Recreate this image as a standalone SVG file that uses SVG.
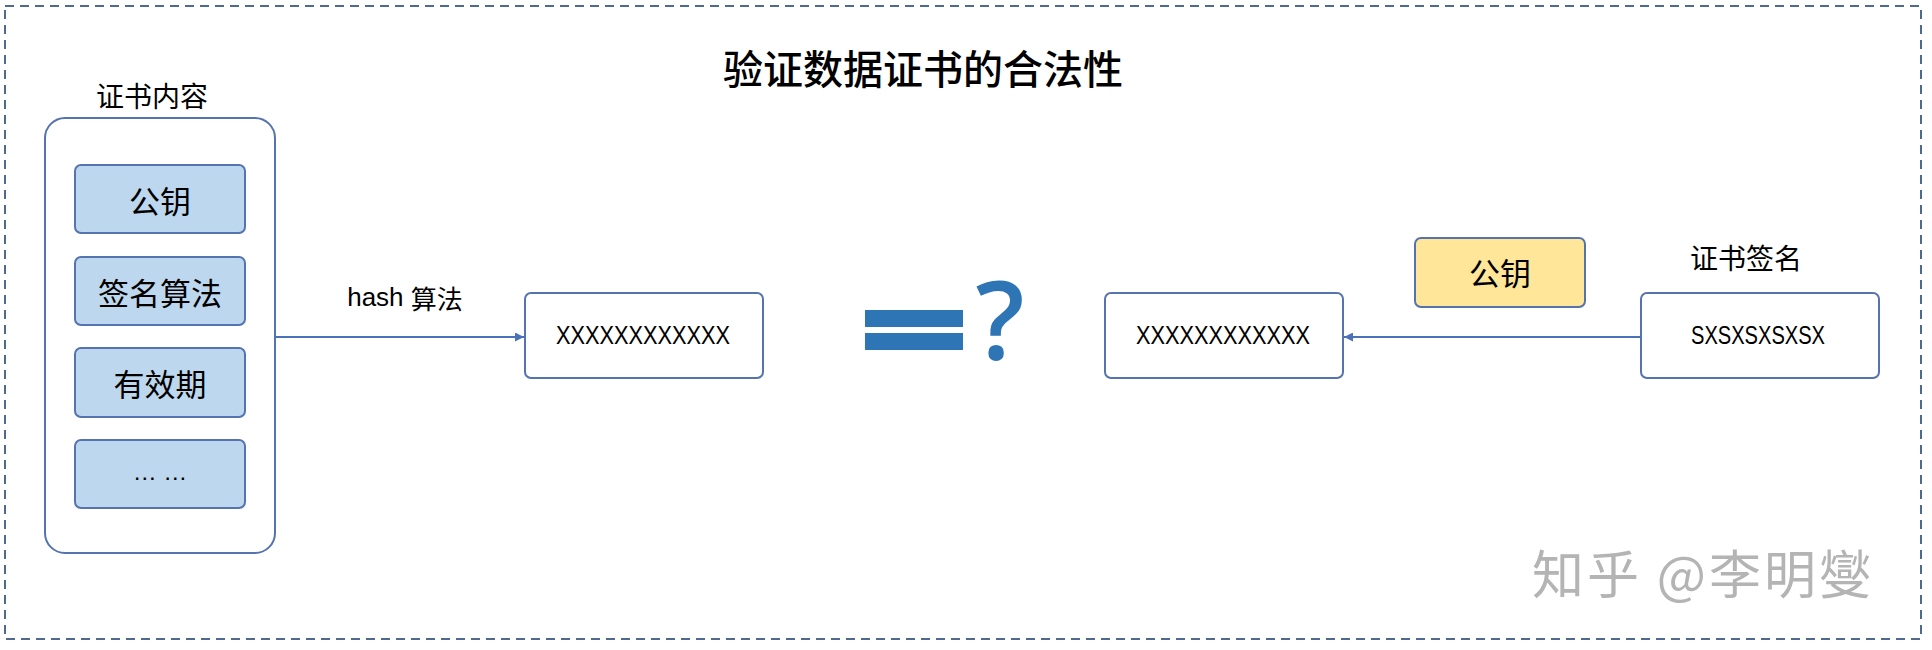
<svg xmlns="http://www.w3.org/2000/svg" width="1932" height="650" viewBox="0 0 1932 650">
<style>
.cjk{font-family:"Noto Sans CJK SC","Liberation Sans",sans-serif;fill:#000}
.lat{font-family:"Liberation Sans","Noto Sans CJK SC",sans-serif;fill:#000}
.box{fill:#fff;stroke:#5573AE;stroke-width:2}
.item{fill:#BDD7EE;stroke:#5573AE;stroke-width:2}
.conn{stroke:#4A72B8;stroke-width:2;fill:none}
</style>
<defs>
<marker id="arr" viewBox="0 0 10 10" refX="10" refY="5" markerWidth="9" markerHeight="9" markerUnits="userSpaceOnUse" orient="auto">
<path d="M0,0 L10,5 L0,10 z" fill="#4A72B8"/>
</marker>
</defs>
<rect x="0" y="0" width="1932" height="650" fill="#fff"/>
<rect x="5" y="6" width="1916" height="633" fill="none" stroke="#4E6A8E" stroke-width="2" stroke-dasharray="9,6"/>
<text class="cjk" x="923" y="67" font-size="40" font-weight="500" text-anchor="middle" dominant-baseline="central">验证数据证书的合法性</text>
<g id="cert-content">
<text class="cjk" x="152" y="95" font-size="28" text-anchor="middle" dominant-baseline="central">证书内容</text>
<rect class="box" x="45" y="118" width="230" height="435" rx="20"/>
</g>
<g id="item-pubkey"><rect class="item" x="75" y="165" width="170" height="68" rx="6"/><text class="cjk" x="160" y="199" font-size="31" text-anchor="middle" dominant-baseline="central">公钥</text></g>
<g id="item-sigalg"><rect class="item" x="75" y="257" width="170" height="68" rx="6"/><text class="cjk" x="160" y="291" font-size="31" text-anchor="middle" dominant-baseline="central">签名算法</text></g>
<g id="item-validity"><rect class="item" x="75" y="348" width="170" height="69" rx="6"/><text class="cjk" x="160" y="382" font-size="31" text-anchor="middle" dominant-baseline="central">有效期</text></g>
<g id="item-more"><rect class="item" x="75" y="440" width="170" height="68" rx="6"/><text class="lat" x="160" y="480" font-size="24" text-anchor="middle">… …</text></g>
<g id="hash-left"><rect class="box" x="525" y="293" width="238" height="85" rx="6"/><text class="lat" x="643" y="344" font-size="26" text-anchor="middle" textLength="174" lengthAdjust="spacingAndGlyphs">XXXXXXXXXXXX</text></g>
<g id="equals">
<rect x="865" y="310" width="98" height="17" fill="#2E75B6"/>
<rect x="865" y="333" width="98" height="17" fill="#2E75B6"/>
<text x="1000" y="360" font-family="Open Sans, Liberation Sans, sans-serif" font-size="108" font-weight="600" fill="#2E75B6" text-anchor="middle">?</text>
</g>
<g id="hash-right"><rect class="box" x="1105" y="293" width="238" height="85" rx="6"/><text class="lat" x="1223" y="344" font-size="26" text-anchor="middle" textLength="174" lengthAdjust="spacingAndGlyphs">XXXXXXXXXXXX</text></g>
<g id="pubkey"><rect x="1415" y="238" width="170" height="69" rx="6" fill="#FFE699" stroke="#5573AE" stroke-width="2"/><text class="cjk" x="1500" y="271" font-size="31" text-anchor="middle" dominant-baseline="central">公钥</text></g>
<g id="signature">
<text class="cjk" x="1746" y="257" font-size="28" text-anchor="middle" dominant-baseline="central">证书签名</text>
<rect class="box" x="1641" y="293" width="238" height="85" rx="6"/><text class="lat" x="1758" y="344" font-size="26" text-anchor="middle" textLength="134" lengthAdjust="spacingAndGlyphs">SXSXSXSXSX</text></g>
<g id="connectors">
<line class="conn" x1="275" y1="337" x2="524" y2="337" marker-end="url(#arr)"/>
<text class="lat" x="405" y="297" font-size="26" text-anchor="middle" dominant-baseline="central">hash <tspan class="cjk">算法</tspan></text>
<line class="conn" x1="1641" y1="337" x2="1344" y2="337" marker-end="url(#arr)"/>
</g>
<text x="1703" y="571" font-family="Noto Sans CJK SC, sans-serif" font-size="52" fill="#B4B4B4" text-anchor="middle" dominant-baseline="central" letter-spacing="3">知乎 @李明燮</text>
</svg>
